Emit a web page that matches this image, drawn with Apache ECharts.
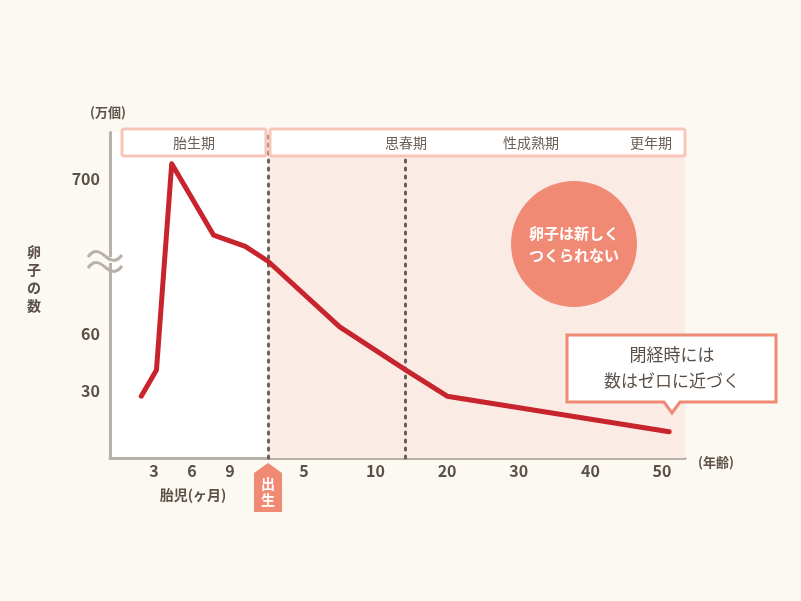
<!DOCTYPE html>
<html><head><meta charset="utf-8">
<script src="https://cdn.jsdelivr.net/npm/echarts@6/dist/echarts.min.js"></script>
<style>html,body{margin:0;padding:0;background:#fbf9f2;}#c{width:801px;height:601px;}</style>
</head><body><div id="c"></div>
<script>
// ---- data ----
const fetalMonthTicks = [3, 6, 9];            // 胎児(ヶ月)
const yearTicks = [5, 10, 20, 30, 40, 50];    // 年齢
const yTicks = [30, 60, 700];                 // 万個
const phaseNames = ['胎生期', '思春期', '性成熟期', '更年期'];

const fetalMonths = [2.0, 3.2, 4.4, 7.7, 10.2];
const fetalEggs   = [27, 41, 708, 670, 664];
const birthEggs   = 656;
const ageYears    = [7.5, 14.2, 20, 51];
const ageEggs     = [64, 41, 27, 8];
const pubertyAge  = 14.2;

// ---- axis scale: fetal months and years onto one ordinal-like scale ----
const yearAnchors = [0, 5, 10, 20, 30, 40, 50];
const yearSlots   = [4, 5, 7, 9, 11, 13, 15];
const fetalSpanMonths = 12;      // months shown before birth on the scale
const slotsPerMonth = 0.354;
function yearToSlot(y) {
  for (let i = 0; i < yearAnchors.length - 1; i++) {
    if (y <= yearAnchors[i + 1]) {
      const t = (y - yearAnchors[i]) / (yearAnchors[i + 1] - yearAnchors[i]);
      return yearSlots[i] + t * (yearSlots[i + 1] - yearSlots[i]);
    }
  }
  const n = yearAnchors.length - 1;
  return yearSlots[n] + (y - yearAnchors[n]) * 0.2;
}
const birthSlot = yearToSlot(0);
function monthToSlot(m) { return birthSlot - (fetalSpanMonths - m) * slotsPerMonth; }

const lineData = [];
fetalMonths.forEach((m, i) => lineData.push([monthToSlot(m), fetalEggs[i]]));
lineData.push([birthSlot, birthEggs]);
ageYears.forEach((y, i) => lineData.push([yearToSlot(y), ageEggs[i]]));

const tickLabelMap = {};
const xTickValues = [];
fetalMonthTicks.forEach(m => { const s = monthToSlot(m); tickLabelMap[s.toFixed(3)] = String(m); xTickValues.push(s); });
yearTicks.forEach(y => { const s = yearToSlot(y); tickLabelMap[s.toFixed(3)] = String(y); xTickValues.push(s); });

const X_MIN = -0.413, X_MAX = 15.642;

const FONT = '"Noto Sans CJK JP", "Noto Sans", sans-serif';
const TXT = '#5b5048';
const AXIS = '#b7b0a8';
const SALMON = '#f08a75';

function wave(y) {
  return [
    { type: 'bezierCurve', z: 53, shape: { x1: 88, y1: y, cpx1: 94, cpy1: y - 8, cpx2: 99, cpy2: y - 6, x2: 105, y2: y - 1 }, style: { fill: 'none', stroke: AXIS, lineWidth: 3 } },
    { type: 'bezierCurve', z: 53, shape: { x1: 105, y1: y - 1, cpx1: 111, cpy1: y + 4, cpx2: 116, cpy2: y + 6, x2: 122, y2: y - 2 }, style: { fill: 'none', stroke: AXIS, lineWidth: 3 } }
  ];
}

const chart = echarts.init(document.getElementById('c'));
chart.setOption({
  backgroundColor: '#fbf9f2',
  animation: false,
  textStyle: { fontFamily: FONT },
  grid: { left: 110, top: 132, width: 575, height: 326, show: true, backgroundColor: '#ffffff', borderWidth: 0 },
  xAxis: {
    type: 'value', min: X_MIN, max: X_MAX,
    splitLine: { show: false },
    axisTick: { show: false },
    axisLine: { show: true, onZero: false, lineStyle: { color: AXIS, width: 3 } },
    axisLabel: {
      customValues: xTickValues,
      formatter: v => tickLabelMap[Number(v).toFixed(3)] || '',
      color: TXT, fontSize: 16, fontWeight: 'bold', fontFamily: FONT, margin: 5
    }
  },
  yAxis: {
    type: 'value', min: -6, max: 725,
    breaks: [{ start: 95, end: 653, gap: 1 }],
    breakArea: { show: false },
    splitLine: { show: false },
    axisTick: { show: false },
    axisLine: { show: true, onZero: false, lineStyle: { color: AXIS, width: 3 } },
    axisLabel: {
      customValues: yTicks,
      color: TXT, fontSize: 16, fontWeight: 'bold', fontFamily: FONT, margin: 10
    }
  },
  series: [{
    type: 'line',
    data: lineData,
    symbol: 'none',
    z: 5,
    lineStyle: { color: '#c8242d', width: 5, join: 'round', cap: 'round' },
    markArea: {
      silent: true,
      itemStyle: { color: '#faece5' },
      data: [[{ xAxis: birthSlot }, { xAxis: X_MAX }]]
    },
    markLine: {
      silent: true,
      symbol: 'none',
      label: { show: false },
      lineStyle: { color: '#6b6058', width: 3, type: [2, 6], cap: 'round' },
      data: [{ xAxis: birthSlot }, { xAxis: yearToSlot(pubertyAge) }]
    }
  }],
  graphic: [
    // phase header boxes
    { type: 'rect', z: 50, shape: { x: 122, y: 129, width: 144, height: 27, r: 2 }, style: { fill: '#fff', stroke: '#f7c6b8', lineWidth: 3 } },
    { type: 'rect', z: 50, shape: { x: 270, y: 129, width: 415, height: 27, r: 2 }, style: { fill: '#fff', stroke: '#f7c6b8', lineWidth: 3 } },
    { type: 'text', z: 51, style: { x: 194, y: 143, text: phaseNames[0], fill: '#6b6058', font: '14px ' + FONT, textAlign: 'center', textVerticalAlign: 'middle' } },
    { type: 'text', z: 51, style: { x: 406, y: 143, text: phaseNames[1], fill: '#6b6058', font: '14px ' + FONT, textAlign: 'center', textVerticalAlign: 'middle' } },
    { type: 'text', z: 51, style: { x: 531, y: 143, text: phaseNames[2], fill: '#6b6058', font: '14px ' + FONT, textAlign: 'center', textVerticalAlign: 'middle' } },
    { type: 'text', z: 51, style: { x: 651, y: 143, text: phaseNames[3], fill: '#6b6058', font: '14px ' + FONT, textAlign: 'center', textVerticalAlign: 'middle' } },
    // axis titles
    { type: 'text', z: 51, style: { x: 108, y: 112, text: '(万個)', fill: TXT, font: 'bold 13px ' + FONT, textAlign: 'center', textVerticalAlign: 'middle' } },
    { type: 'text', z: 51, style: { x: 716, y: 462, text: '(年齢)', fill: TXT, font: 'bold 13px ' + FONT, textAlign: 'center', textVerticalAlign: 'middle' } },
    { type: 'text', z: 51, style: { x: 193, y: 495, text: '胎児(ヶ月)', fill: TXT, font: 'bold 14px ' + FONT, textAlign: 'center', textVerticalAlign: 'middle' } },
    { type: 'text', z: 51, style: { x: 34, y: 279, text: '卵\n子\nの\n数', fill: TXT, font: 'bold 14px ' + FONT, lineHeight: 18, textAlign: 'center', textVerticalAlign: 'middle' } },
    // axis break waves
    { type: 'rect', z: 52, shape: { x: 100, y: 257, width: 20, height: 6 }, style: { fill: '#fbf9f2' } },
    ...wave(257), ...wave(268),
    // birth marker
    { type: 'polygon', z: 55, shape: { points: [[254, 473], [268, 463], [282, 473], [282, 512], [254, 512]] }, style: { fill: SALMON } },
    { type: 'text', z: 56, style: { x: 268, y: 492, text: '出\n生', fill: '#fff', font: 'bold 14px ' + FONT, lineHeight: 16, textAlign: 'center', textVerticalAlign: 'middle' } },
    // circle
    { type: 'circle', z: 40, shape: { cx: 574, cy: 244, r: 63 }, style: { fill: SALMON } },
    { type: 'text', z: 41, style: { x: 574, y: 244, text: '卵子は新しく\nつくられない', fill: '#fff', font: 'bold 15px ' + FONT, lineHeight: 22, textAlign: 'center', textVerticalAlign: 'middle' } },
    // callout
    { type: 'polygon', z: 60, shape: { points: [[567, 335], [776, 335], [776, 402], [680, 402], [672, 413], [664, 402], [567, 402]] }, style: { fill: '#fff', stroke: SALMON, lineWidth: 3, lineJoin: 'miter' } },
    { type: 'text', z: 61, style: { x: 672, y: 368, text: '閉経時には\n数はゼロに近づく', fill: TXT, font: '17px ' + FONT, lineHeight: 26, textAlign: 'center', textVerticalAlign: 'middle' } }
  ]
});
</script>
</body></html>
